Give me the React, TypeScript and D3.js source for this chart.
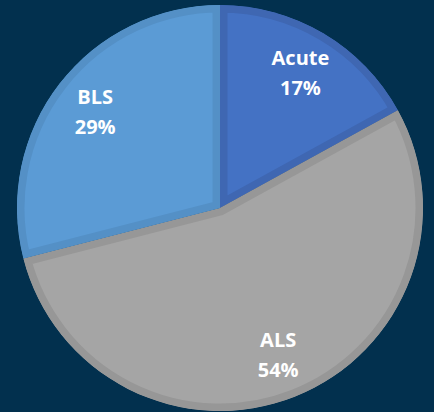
import React from 'react';
import * as d3 from 'd3';

const categories = ['Acute', 'ALS', 'BLS'];
const shares = [17, 54, 29];
const fills = ['#4472C4', '#A5A5A5', '#5B9BD5'];
const borders = ['#3F67B2', '#979797', '#5490C6'];

const W = 434;
const H = 412;

const App = () => {
  const cx = 220;
  const cy = 208;
  const radius = 203;

  const slices = d3.pie<number>().sort(null).value(d => d)(shares);
  const arc = d3.arc<d3.PieArcDatum<number>>().innerRadius(0).outerRadius(radius);
  const labelArc = d3.arc<d3.PieArcDatum<number>>().innerRadius(158).outerRadius(158);

  return (
    <svg width={W} height={H} style={{ position: 'absolute', left: 0, top: 0, background: '#02304E' }}>
      <rect width={W} height={H} fill="#02304E" />
      <defs>
        {slices.map((s, i) => (
          <clipPath id={`clip-${i}`} key={i}>
            <path d={arc(s) || ''} />
          </clipPath>
        ))}
      </defs>
      <g transform={`translate(${cx},${cy})`}>
        {slices.map((s, i) => (
          <g key={categories[i]} clipPath={`url(#clip-${i})`}>
            <path d={arc(s) || ''} fill={fills[i]} stroke={borders[i]} strokeWidth={15} strokeLinejoin="miter" />
          </g>
        ))}
        {slices.map((s, i) => {
          const [lx, ly] = labelArc.centroid(s);
          return (
            <text
              key={`t-${i}`}
              x={lx}
              y={ly}
              textAnchor="middle"
              fill="#FFFFFF"
              fontFamily="'Open Sans', Lato, sans-serif"
              fontWeight="bold"
              fontSize={20}
            >
              <tspan x={lx} dy={-7.5}>{categories[i]}</tspan>
              <tspan x={lx} dy={30}>{`${shares[i]}%`}</tspan>
            </text>
          );
        })}
      </g>
    </svg>
  );
};

export default App;
